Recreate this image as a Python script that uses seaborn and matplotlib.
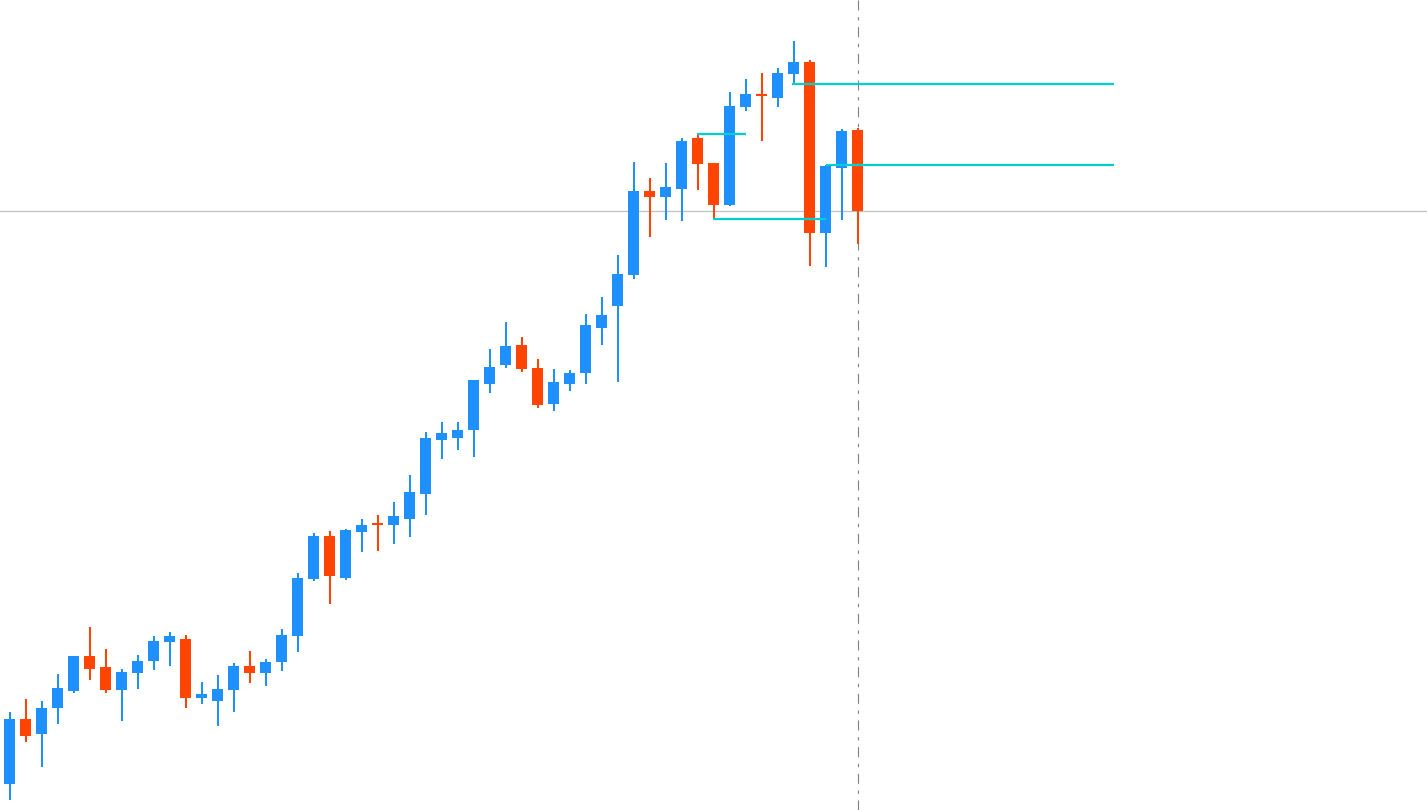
import matplotlib.pyplot as plt
import numpy as np
import pandas as pd
import seaborn as sns

# candle data (price units, bottom of chart = 0)
opens = [26.3, 91, 76.3, 102.3, 119.3, 154, 143, 120.3, 137.3, 149.3,
         168.3, 171, 112.3, 109.3, 120.3, 144, 137.3, 148.3, 174.3, 231.3,
         274, 232.3, 278.3, 287, 285.3, 291.3, 316.3, 370.3, 372.3, 380.3,
         426.3, 445.3, 465, 442, 406.3, 426.3, 437.3, 482.3, 504.3, 535.3,
         619, 613.3, 621.3, 672, 647, 605.3, 703.3, 716, 712.3, 736.3,
         748, 577.3, 642.3, 680]
highs = [98, 111, 109, 136, 154, 183, 161, 141, 155, 174,
         178, 175, 128, 135, 147, 159, 151, 181, 237, 277,
         279, 281, 291, 295, 308, 335, 378, 388, 388, 430,
         461, 488, 473, 451, 441, 440, 496, 513, 555, 648,
         632, 647, 672, 677, 647, 718, 731, 737, 742, 769,
         750, 645, 681, 682]
lows = [10, 68.3, 43.3, 86.3, 117.3, 130.3, 117.3, 89.3, 121.3, 140.3,
        144.3, 102.3, 106.3, 84.3, 98.3, 127.3, 124.3, 139.3, 158.3, 229.3,
        206.3, 230.3, 258.3, 259.3, 266.3, 273.3, 295.3, 351.3, 360.3, 353.3,
        417.3, 442.3, 438.3, 402.3, 399.3, 419.3, 426.3, 465.3, 428.3, 531.3,
        573.3, 590.3, 589.3, 620.3, 590.3, 604.3, 699.3, 669.3, 703.3, 726,
        544.3, 543.3, 590.3, 566.3]
closes = [91, 74.3, 102, 122, 154, 141.3, 120.3, 138, 149, 169,
          174, 112.3, 116, 121, 144, 137.3, 148, 175, 232, 274,
          234.3, 280, 285, 285.3, 294, 318, 372, 377, 380, 430,
          443, 464, 441.3, 405.3, 428, 437, 485, 495, 536, 619,
          613.3, 623, 669, 646.3, 605.3, 704, 716, 714.3, 737, 748,
          577.3, 644.3, 679, 599]

# horizontal levels: (price, start bar, end bar)
level_prices = [676, 591.5, 726, 645]
level_starts = [42.97, 43.97, 48.9, 51.03]
level_ends = [46.03, 51.03, 69.03, 69.03]

bid_price = 599          # current price line
cursor_bar = 53          # dashed vertical line

UP = '#1e90ff'
DOWN = '#ff4500'
LEVEL = '#00ced1'

sns.set_theme(style='white')

df = pd.DataFrame({'open': opens, 'high': highs, 'low': lows, 'close': closes})
df['bar'] = np.arange(len(df))
df['color'] = np.where(df['close'] >= df['open'], UP, DOWN)
df['body_lo'] = df[['open', 'close']].min(axis=1)
df['body_hi'] = df[['open', 'close']].max(axis=1)

fig = plt.figure(figsize=(14.27, 8.10), dpi=100)
ax = fig.add_axes([0, 0, 1, 1])

# wicks
ax.vlines(df['bar'], df['low'], df['high'], colors=df['color'], linewidth=1.45, zorder=2)

# bodies
ax.bar(df['bar'], df['body_hi'] - df['body_lo'], bottom=df['body_lo'],
       width=0.6875, color=df['color'], linewidth=0, zorder=3)

# support / resistance levels
for price, x0, x1 in zip(level_prices, level_starts, level_ends):
    ax.hlines(price, x0, x1, colors=LEVEL, linewidth=1.6, zorder=4)

ax.axhline(bid_price, color='#c0c0c0', linewidth=0.9, zorder=1)
# dash-dot cursor line (lw 0.72pt = 1px, so dash units are pixels)
ax.axvline(cursor_bar, color='#808080', linewidth=0.8,
           linestyle=(0, (9, 6, 3, 6)), zorder=1)

ax.set_xlim(-0.59375, 88.59375)
ax.set_ylim(0, 810)
ax.axis('off')

plt.savefig('out.png', dpi=100)
